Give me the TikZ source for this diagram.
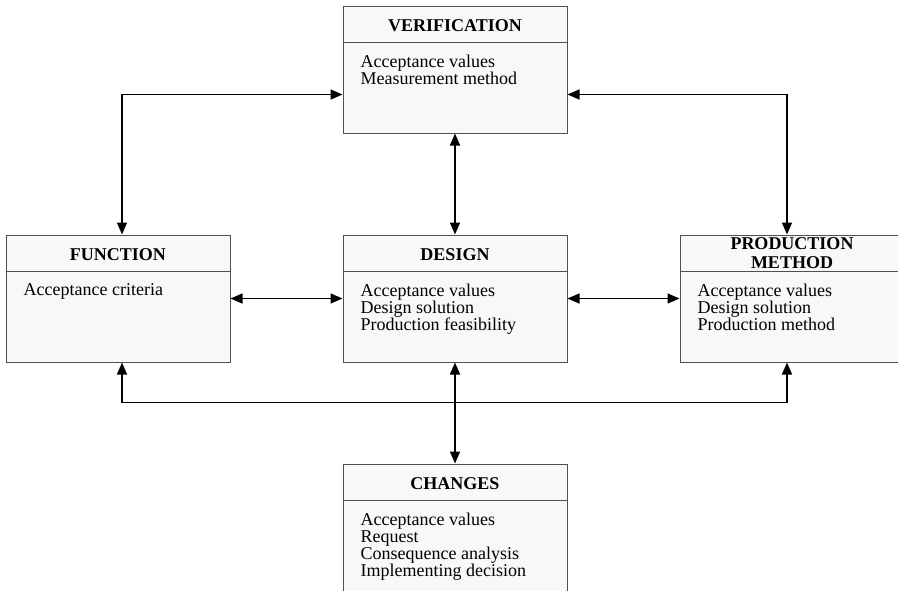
\documentclass[tikz,border=0pt]{standalone}
\usepackage{fontspec}
\setmainfont{Liberation Serif}
\usepackage{tikz}
\usetikzlibrary{arrows.meta, positioning}
\definecolor{corBorda}{RGB}{80, 80, 80}
\definecolor{corFundo}{RGB}{248, 248, 248}

\begin{document}
\begin{tikzpicture}[
    x=1pt, y=-1pt,
    font=\fontsize{18}{17}\selectfont,
    caixa/.style={draw=corBorda, fill=corFundo, line width=1pt, rectangle,
                  minimum width=224pt, minimum height=127pt, inner sep=0pt},
    titulo/.style={font=\fontsize{18}{19}\selectfont\bfseries, align=center, inner sep=0pt},
    corpo/.style={align=left, inner sep=0pt, anchor=north west},
    divisa/.style={draw=corBorda, line width=1pt},
    liga/.style={line width=1.6pt, {Triangle[length=12pt,width=10pt]}-{Triangle[length=12pt,width=10pt]}},
    node distance=101pt and 112pt
]
\useasboundingbox (0,0) rectangle (898,590);

\node[caixa] (des) at (455,298.5) {};
\node[caixa, left=of des] (fun) {};
\node[caixa, right=of des] (pro) {};
\node[caixa, above=of des] (ver) {};
\node[caixa, below=of des] (chg) {};

% cabecalhos
\foreach \c in {ver, fun, des, pro, chg}
    \draw[divisa] ([yshift=-37pt]\c.north west) -- ([yshift=-37pt]\c.north east);

\node[titulo] (verT) at ([yshift=-20pt]ver.north) {VERIFICATION};
\node[titulo] (funT) at ([yshift=-20pt]fun.north) {FUNCTION};
\node[titulo] (desT) at ([yshift=-20pt]des.north) {DESIGN};
\node[titulo] (proT) at ([yshift=-18.5pt]pro.north) {PRODUCTION\\METHOD};
\node[titulo] (chgT) at ([yshift=-20pt]chg.north) {CHANGES};

\node[corpo] (verB) at ([shift={(18pt,-49pt)}]ver.north west) {Acceptance values\\Measurement method};
\node[corpo] (funB) at ([shift={(18pt,-49pt)}]fun.north west) {Acceptance criteria};
\node[corpo] (desB) at ([shift={(18pt,-49pt)}]des.north west) {Acceptance values\\Design solution\\Production feasibility};
\node[corpo] (proB) at ([shift={(18pt,-49pt)}]pro.north west) {Acceptance values\\Design solution\\Production method};
\node[corpo] (chgB) at ([shift={(18pt,-49pt)}]chg.north west) {Acceptance values\\Request\\Consequence analysis\\Implementing decision};

% ligacoes
\draw[liga] ([xshift=4pt]fun.north) |- ([yshift=-25pt]ver.west);
\draw[liga] ([yshift=-25pt]ver.east) -| ([xshift=-5pt]pro.north);
\draw[liga] (ver) -- (des);
\draw[liga] (fun) -- (des);
\draw[liga] (des) -- (pro);
\draw[liga] ([xshift=4pt]fun.south) -- ++(0,-40pt) -| ([xshift=-5pt]pro.south);
\draw[liga] (des) -- (chg);
\end{tikzpicture}
\end{document}
